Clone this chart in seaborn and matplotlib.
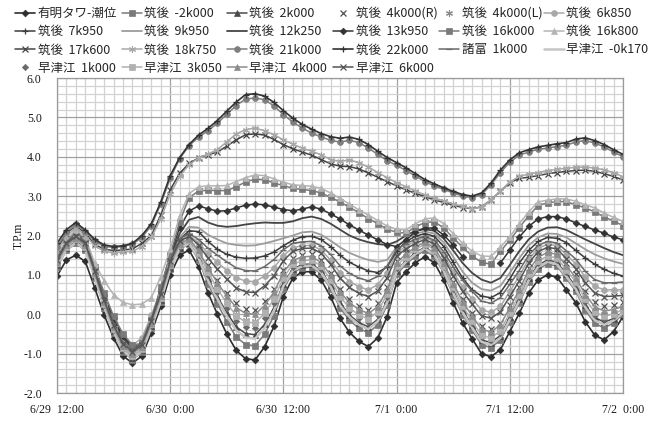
import numpy as np
import pandas as pd
import matplotlib
matplotlib.use("Agg")
import matplotlib.pyplot as plt
from matplotlib.lines import Line2D
from matplotlib.ticker import MultipleLocator, FixedLocator
import seaborn as sns

# hourly water levels (T.P. m), 6/29 12:00 .. 7/2 0:00
hours = list(range(61))
x_tick_hours = [0, 12, 24, 36, 48, 60]
x_tick_labels = ["6/29  12:00", "6/30  0:00", "6/30  12:00", "7/1  0:00", "7/1  12:00", "7/2  0:00"]
y_tick_values = [-2.0, -1.0, 0.0, 1.0, 2.0, 3.0, 4.0, 5.0, 6.0]

tide = [0.97, 1.38, 1.50, 1.34, 0.67, -0.02, -0.60, -1.06, -1.24, -1.06, -0.47, 0.20, 1.00, 1.50, 1.63, 1.20, 0.55, 0.00, -0.50, -0.92, -1.13,
        -1.16, -0.83, -0.31, 0.45, 0.92, 1.08, 1.08, 0.87, 0.45, -0.10, -0.46, -0.69, -0.82, -0.60, -0.06, 0.80, 1.08, 1.31, 1.46, 1.31,
        0.87, 0.29, -0.22, -0.62, -1.00, -1.08, -0.90, -0.44, 0.02, 0.54, 0.87, 1.00, 0.94, 0.62, 0.29, -0.19, -0.53, -0.65, -0.44, -0.06]
c_m2k000 = [1.20, 1.62, 1.80, 1.62, 0.92, 0.16, -0.47, -0.96, -1.15, -0.97, -0.36, 0.32, 1.14, 1.65, 1.78, 1.38, 0.78, 0.27, -0.19, -0.58, -0.77,
            -0.80, -0.51, -0.04, 0.64, 1.06, 1.18, 1.20, 1.02, 0.65, 0.16, -0.15, -0.36, -0.47, -0.27, 0.23, 1.01, 1.27, 1.48, 1.62, 1.47,
            1.05, 0.48, -0.01, -0.40, -0.77, -0.85, -0.66, -0.19, 0.28, 0.81, 1.15, 1.28, 1.22, 0.91, 0.58, 0.10, -0.23, -0.35, -0.22, 0.00]
c_2k000 = [1.25, 1.67, 1.85, 1.67, 0.97, 0.21, -0.42, -0.91, -1.10, -0.92, -0.31, 0.36, 1.18, 1.69, 1.82, 1.46, 0.91, 0.45, 0.04, -0.32, -0.49,
           -0.52, -0.26, 0.16, 0.78, 1.15, 1.26, 1.28, 1.10, 0.75, 0.29, -0.02, -0.21, -0.32, -0.13, 0.35, 1.11, 1.36, 1.57, 1.70, 1.55,
           1.14, 0.58, 0.10, -0.28, -0.65, -0.72, -0.54, -0.07, 0.39, 0.92, 1.25, 1.38, 1.32, 1.02, 0.70, 0.24, -0.08, -0.20, -0.11, 0.05]
c_4k000r = [1.35, 1.77, 1.95, 1.77, 1.07, 0.32, -0.31, -0.79, -0.98, -0.80, -0.19, 0.49, 1.31, 1.82, 1.95, 1.67, 1.24, 0.88, 0.55, 0.28, 0.14,
            0.12, 0.33, 0.65, 1.13, 1.42, 1.51, 1.52, 1.37, 1.06, 0.65, 0.39, 0.22, 0.12, 0.29, 0.70, 1.36, 1.57, 1.75, 1.86, 1.73,
            1.34, 0.83, 0.38, 0.03, -0.31, -0.38, -0.21, 0.24, 0.68, 1.18, 1.50, 1.62, 1.57, 1.29, 1.01, 0.60, 0.30, 0.20, 0.24, 0.30]
c_4k000l = [1.32, 1.74, 1.92, 1.74, 1.04, 0.29, -0.34, -0.83, -1.02, -0.84, -0.23, 0.44, 1.26, 1.77, 1.90, 1.58, 1.10, 0.69, 0.32, 0.01, -0.15,
            -0.17, 0.06, 0.43, 0.98, 1.31, 1.40, 1.42, 1.26, 0.93, 0.51, 0.23, 0.05, -0.05, 0.13, 0.57, 1.26, 1.49, 1.68, 1.80, 1.66,
            1.26, 0.73, 0.27, -0.10, -0.45, -0.52, -0.34, 0.11, 0.56, 1.07, 1.39, 1.52, 1.47, 1.17, 0.87, 0.42, 0.11, 0.00, 0.05, 0.15]
c_6k850 = [1.40, 1.82, 2.00, 1.83, 1.17, 0.46, -0.14, -0.60, -0.78, -0.61, -0.03, 0.61, 1.39, 1.87, 2.00, 1.82, 1.55, 1.32, 1.11, 0.93, 0.84,
           0.83, 0.97, 1.18, 1.49, 1.69, 1.74, 1.75, 1.63, 1.38, 1.05, 0.83, 0.70, 0.62, 0.75, 1.06, 1.56, 1.73, 1.86, 1.95, 1.84,
           1.51, 1.07, 0.69, 0.39, 0.11, 0.05, 0.20, 0.58, 0.97, 1.40, 1.67, 1.78, 1.74, 1.51, 1.28, 0.94, 0.71, 0.62, 0.62, 0.62]
c_7k950 = [1.35, 1.75, 1.95, 1.78, 1.00, 0.35, -0.25, -0.70, -0.90, -0.86, -0.28, 0.50, 1.35, 1.90, 2.12, 2.10, 1.85, 1.65, 1.52, 1.45, 1.42,
           1.43, 1.48, 1.58, 1.74, 1.88, 1.97, 1.98, 1.90, 1.72, 1.50, 1.32, 1.20, 1.10, 1.06, 1.20, 1.60, 1.85, 1.98, 2.05, 1.98,
           1.72, 1.32, 0.92, 0.62, 0.46, 0.42, 0.55, 0.90, 1.30, 1.62, 1.85, 1.95, 1.93, 1.82, 1.62, 1.43, 1.27, 1.14, 1.04, 0.97]
c_9k950 = [1.38, 1.78, 1.98, 1.80, 1.05, 0.40, -0.20, -0.65, -0.88, -0.84, -0.25, 0.55, 1.40, 1.95, 2.22, 2.20, 2.02, 1.90, 1.80, 1.76, 1.74,
           1.75, 1.80, 1.86, 1.93, 2.00, 2.08, 2.10, 2.02, 1.87, 1.70, 1.56, 1.46, 1.38, 1.33, 1.38, 1.70, 1.92, 2.05, 2.10, 2.05,
           1.82, 1.46, 1.08, 0.80, 0.64, 0.60, 0.72, 1.05, 1.42, 1.75, 1.95, 2.05, 2.04, 1.95, 1.80, 1.65, 1.52, 1.42, 1.34, 1.28]
c_12k250 = [1.40, 1.80, 2.00, 1.82, 1.10, 0.45, -0.15, -0.60, -0.86, -0.82, -0.22, 0.60, 1.45, 2.05, 2.40, 2.47, 2.33, 2.25, 2.22, 2.24, 2.28,
            2.31, 2.33, 2.32, 2.32, 2.36, 2.44, 2.48, 2.42, 2.30, 2.15, 2.00, 1.90, 1.83, 1.78, 1.76, 1.85, 2.00, 2.12, 2.16, 2.12,
            1.92, 1.62, 1.30, 1.05, 0.88, 0.80, 0.92, 1.25, 1.60, 1.90, 2.10, 2.20, 2.21, 2.14, 2.02, 1.90, 1.79, 1.68, 1.58, 1.50]
c_13k950 = [1.42, 1.82, 2.05, 1.86, 1.15, 0.50, -0.10, -0.55, -0.82, -0.78, -0.18, 0.65, 1.50, 2.20, 2.62, 2.75, 2.68, 2.62, 2.63, 2.70, 2.77,
            2.80, 2.78, 2.72, 2.66, 2.63, 2.67, 2.73, 2.67, 2.55, 2.42, 2.27, 2.14, 2.01, 1.89, 1.77, 1.72, 1.89, 2.10, 2.19, 2.19,
            2.01, 1.76, 1.46, np.nan, np.nan, np.nan, 1.30, 1.63, 1.96, 2.23, 2.42, 2.48, 2.48, 2.42, 2.32, 2.23, 2.14, 2.06, 1.96, 1.89]
c_16k000 = [1.45, 1.85, 2.10, 1.90, 1.20, 0.55, -0.05, -0.50, -0.78, -0.74, -0.15, 0.70, 1.50, 2.35, 2.96, 3.13, 3.15, 3.14, 3.14, 3.24, 3.36,
            3.43, 3.42, 3.33, 3.27, 3.20, 3.17, 3.14, 3.08, 2.97, 2.85, 2.72, 2.58, 2.43, 2.30, 2.16, 2.08, 2.06, 2.22, 2.33, 2.35,
            2.19, 1.94, 1.70, 1.48, 1.32, 1.27, 1.60, 1.88, 2.20, 2.50, 2.76, 2.83, 2.86, 2.86, 2.78, 2.70, 2.60, 2.47, 2.37, 2.25]
c_16k800 = [1.50, 1.90, 2.15, 1.95, 1.30, 0.85, 0.50, 0.30, 0.24, 0.26, 0.42, 0.95, 1.65, 2.50, 3.06, 3.24, 3.26, 3.26, 3.27, 3.37, 3.47,
            3.54, 3.52, 3.44, 3.35, 3.29, 3.27, 3.25, 3.20, 3.08, 2.94, 2.80, 2.65, 2.52, 2.38, 2.24, 2.16, 2.14, 2.30, 2.42, 2.45,
            2.30, 2.05, 1.80, 1.60, 1.48, 1.47, 1.70, 1.97, 2.30, 2.60, 2.85, 2.90, 2.93, 2.93, 2.87, 2.78, 2.70, 2.57, 2.46, 2.36]
c_17k600 = [1.65, 2.05, 2.25, 2.05, 1.78, 1.65, 1.62, 1.63, 1.66, 1.80, 2.00, 2.52, 3.16, 3.58, 3.83, 3.97, 4.05, 4.12, 4.27, 4.43, 4.56,
            4.58, 4.55, 4.44, 4.31, 4.20, 4.12, 4.04, 3.93, 3.82, 3.76, 3.75, 3.69, 3.59, 3.48, 3.37, 3.26, 3.16, 3.07, 2.99, 2.90,
            2.84, 2.77, 2.71, 2.68, 2.73, 2.90, 3.13, 3.34, 3.45, 3.48, 3.52, 3.57, 3.60, 3.63, 3.65, 3.66, 3.63, 3.57, 3.50, 3.41]
c_18k750 = [1.60, 1.98, 2.20, 2.00, 1.74, 1.60, 1.56, 1.58, 1.60, 1.72, 1.95, 2.42, 3.05, 3.50, 3.80, 3.97, 4.07, 4.18, 4.38, 4.58, 4.69,
            4.73, 4.66, 4.56, 4.43, 4.32, 4.22, 4.14, 4.05, 3.93, 3.88, 3.92, 3.85, 3.74, 3.60, 3.47, 3.34, 3.24, 3.13, 3.03, 2.95,
            2.88, 2.80, 2.74, 2.68, 2.72, 2.90, 3.13, 3.36, 3.50, 3.56, 3.60, 3.65, 3.68, 3.71, 3.73, 3.74, 3.71, 3.67, 3.60, 3.49]
c_21k000 = [1.72, 2.08, 2.28, 2.10, 1.86, 1.72, 1.70, 1.72, 1.78, 1.95, 2.25, 2.80, 3.45, 3.95, 4.28, 4.50, 4.66, 4.85, 5.08, 5.30, 5.47,
            5.49, 5.45, 5.29, 5.07, 4.88, 4.73, 4.60, 4.50, 4.42, 4.37, 4.42, 4.36, 4.22, 4.06, 3.90, 3.78, 3.65, 3.51, 3.37, 3.26,
            3.17, 3.08, 3.00, 2.96, 3.04, 3.28, 3.60, 3.86, 4.04, 4.12, 4.19, 4.22, 4.26, 4.29, 4.38, 4.41, 4.35, 4.25, 4.12, 4.00]
c_22k000 = [1.80, 2.15, 2.33, 2.14, 1.90, 1.76, 1.72, 1.74, 1.80, 2.00, 2.30, 2.85, 3.52, 3.98, 4.31, 4.55, 4.72, 4.92, 5.16, 5.39, 5.58,
            5.60, 5.54, 5.38, 5.17, 4.98, 4.82, 4.70, 4.59, 4.51, 4.47, 4.50, 4.44, 4.31, 4.14, 3.98, 3.85, 3.72, 3.57, 3.42, 3.31,
            3.21, 3.12, 3.04, 3.00, 3.08, 3.33, 3.66, 3.92, 4.10, 4.18, 4.25, 4.29, 4.33, 4.36, 4.45, 4.48, 4.41, 4.31, 4.18, 4.06]
morodomi_1k000 = [1.42, 1.84, 2.02, 1.85, 1.14, 0.40, -0.23, -0.71, -0.90, -0.71, -0.10, 0.58, 1.40, 1.92, 2.05, 1.90, 1.68, 1.50, 1.33, 1.18, 1.11,
                  1.10, 1.21, 1.39, 1.64, 1.80, 1.84, 1.85, 1.74, 1.52, 1.23, 1.04, 0.92, 0.85, 0.96, 1.23, 1.65, 1.79, 1.91, 1.98, 1.88,
                  1.59, 1.20, 0.86, 0.59, 0.33, 0.28, 0.42, 0.76, 1.11, 1.50, 1.75, 1.85, 1.81, 1.61, 1.40, 1.09, 0.88, 0.80, 0.80, 0.82]
h_m0k170 = [1.22, 1.64, 1.82, 1.64, 0.94, 0.19, -0.44, -0.93, -1.12, -0.94, -0.33, 0.34, 1.16, 1.67, 1.80, 1.43, 0.86, 0.39, -0.05, -0.41, -0.59,
            -0.62, -0.35, 0.09, 0.72, 1.11, 1.22, 1.24, 1.06, 0.70, 0.23, -0.07, -0.27, -0.38, -0.18, 0.30, 1.08, 1.33, 1.53, 1.67, 1.52,
            1.10, 0.54, 0.05, -0.34, -0.70, -0.78, -0.60, -0.13, 0.34, 0.86, 1.20, 1.33, 1.27, 0.96, 0.64, 0.18, -0.15, -0.27, -0.16, 0.03]
h_1k000 = [1.27, 1.69, 1.87, 1.69, 0.99, 0.23, -0.40, -0.89, -1.08, -0.90, -0.29, 0.39, 1.21, 1.72, 1.85, 1.51, 1.00, 0.57, 0.17, -0.16, -0.33,
           -0.35, -0.10, 0.29, 0.86, 1.21, 1.31, 1.33, 1.16, 0.82, 0.38, 0.09, -0.10, -0.20, -0.01, 0.45, 1.18, 1.42, 1.62, 1.75, 1.61,
           1.19, 0.64, 0.16, -0.22, -0.59, -0.66, -0.48, -0.02, 0.45, 0.97, 1.30, 1.43, 1.37, 1.07, 0.76, 0.31, -0.01, -0.12, -0.04, 0.10]
h_3k050 = [1.30, 1.72, 1.90, 1.72, 1.02, 0.26, -0.37, -0.86, -1.05, -0.87, -0.26, 0.42, 1.24, 1.75, 1.88, 1.56, 1.07, 0.65, 0.28, -0.04, -0.20,
           -0.22, 0.02, 0.39, 0.93, 1.27, 1.36, 1.38, 1.22, 0.88, 0.45, 0.16, -0.02, -0.12, 0.06, 0.51, 1.23, 1.46, 1.65, 1.78, 1.64,
           1.23, 0.68, 0.21, -0.17, -0.53, -0.60, -0.42, 0.04, 0.50, 1.02, 1.35, 1.48, 1.43, 1.13, 0.82, 0.38, 0.06, -0.05, 0.01, 0.12]
h_4k000 = [1.33, 1.75, 1.93, 1.75, 1.05, 0.30, -0.33, -0.81, -1.00, -0.82, -0.21, 0.46, 1.28, 1.79, 1.92, 1.62, 1.18, 0.80, 0.46, 0.17, 0.02,
           0.00, 0.22, 0.56, 1.06, 1.37, 1.46, 1.47, 1.31, 0.99, 0.57, 0.29, 0.12, 0.02, 0.19, 0.62, 1.31, 1.53, 1.71, 1.83, 1.69,
           1.30, 0.78, 0.32, -0.04, -0.38, -0.45, -0.27, 0.17, 0.62, 1.12, 1.45, 1.57, 1.52, 1.23, 0.93, 0.50, 0.19, 0.08, 0.12, 0.20]
h_6k000 = [1.38, 1.80, 1.98, 1.80, 1.10, 0.35, -0.28, -0.76, -0.95, -0.77, -0.16, 0.52, 1.34, 1.85, 1.98, 1.76, 1.43, 1.15, 0.89, 0.67, 0.57,
           0.55, 0.72, 0.98, 1.36, 1.60, 1.67, 1.68, 1.55, 1.27, 0.92, 0.68, 0.53, 0.45, 0.59, 0.93, 1.48, 1.66, 1.80, 1.90, 1.78,
           1.44, 0.98, 0.58, 0.26, -0.04, -0.10, 0.06, 0.45, 0.85, 1.30, 1.59, 1.70, 1.66, 1.41, 1.16, 0.80, 0.54, 0.45, 0.46, 0.48]

station_names = ["有明タワ-潮位", "筑後  -2k000", "筑後  2k000", "筑後  4k000(R)", "筑後  4k000(L)", "筑後  6k850",
                 "筑後  7k950", "筑後  9k950", "筑後  12k250", "筑後  13k950", "筑後  16k000", "筑後  16k800",
                 "筑後  17k600", "筑後  18k750", "筑後  21k000", "筑後  22k000", "諸富  1k000", "早津江  -0k170",
                 "早津江  1k000", "早津江  3k050", "早津江  4k000", "早津江  6k000"]
station_levels = [tide, c_m2k000, c_2k000, c_4k000r, c_4k000l, c_6k850, c_7k950, c_9k950, c_12k250, c_13k950,
                  c_16k000, c_16k800, c_17k600, c_18k750, c_21k000, c_22k000, morodomi_1k000, h_m0k170,
                  h_1k000, h_3k050, h_4k000, h_6k000]

STAR = (6, 2, 0)
# colour, marker, marker size, line width, marker edge width
styles = [
    ("#2e2e2e", "D", 3.4, 1.2, 0.5),
    ("#7a7a7a", "s", 4.0, 1.1, 0.5),
    ("#4a4a4a", "^", 4.3, 1.1, 0.5),
    ("#505050", "x", 4.5, 0.0, 0.9),
    ("#8a8a8a", STAR, 5.0, 0.0, 0.8),
    ("#a8a8a8", "o", 4.2, 1.1, 0.5),
    ("#3c3c3c", "+", 5.0, 1.1, 0.9),
    ("#9c9c9c", None, 0.0, 1.3, 0.5),
    ("#454545", None, 0.0, 1.3, 0.5),
    ("#333333", "D", 3.4, 1.1, 0.5),
    ("#7a7a7a", "s", 4.0, 1.1, 0.5),
    ("#b4b4b4", "^", 4.3, 1.1, 0.5),
    ("#444444", "x", 4.5, 1.1, 0.9),
    ("#a8a8a8", STAR, 5.0, 1.1, 0.8),
    ("#7e7e7e", "o", 4.2, 1.1, 0.5),
    ("#333333", "+", 5.0, 1.2, 0.9),
    ("#6a6a6a", "_", 4.0, 1.1, 0.9),
    ("#c4c4c4", None, 0.0, 1.8, 0.5),
    ("#6a6a6a", "D", 3.2, 0.0, 0.5),
    ("#b0b0b0", "s", 4.0, 1.1, 0.5),
    ("#8c8c8c", "^", 4.3, 1.1, 0.5),
    ("#555555", "x", 4.5, 1.1, 0.9),
]

sns.set_theme(style="white")
plt.rcParams["font.family"] = ["Noto Sans CJK JP", "DejaVu Sans"]

W, H = 662, 423
fig = plt.figure(figsize=(W / 100, H / 100), dpi=100)
ax = fig.add_axes([57 / W, 1 - 393 / H, (623 - 57) / W, (393 - 78) / H])

handles = []
for name, levels, (color, marker, ms, lw, mew) in zip(station_names, station_levels, styles):
    d = pd.DataFrame({"hour": hours, "level": levels})
    d["seg"] = d["level"].isna().cumsum()
    d = d.dropna()
    ls = "-" if lw > 0 else "none"
    sns.lineplot(data=d, x="hour", y="level", units="seg", estimator=None, sort=False, ax=ax,
                 color=color, linewidth=lw, linestyle=ls, marker=marker, markersize=ms,
                 markerfacecolor=color, markeredgecolor=color, markeredgewidth=mew, legend=False)
    handles.append(Line2D([0], [0], color=color, linewidth=lw, linestyle=ls, marker=marker, markersize=ms,
                          markerfacecolor=color, markeredgecolor=color, markeredgewidth=mew))

ax.xaxis.set_major_locator(FixedLocator(x_tick_hours))
ax.xaxis.set_minor_locator(MultipleLocator(1))
ax.set_xticklabels(x_tick_labels)
ax.set_yticks(y_tick_values)
ax.set_yticklabels([f"{v:.1f}" for v in y_tick_values])
ax.yaxis.set_minor_locator(MultipleLocator(0.2))
ax.set_xlim(0, 60)
ax.set_ylim(-2, 6)
ax.set_axisbelow(True)
ax.grid(which="minor", color="#d2d2d2", linewidth=0.9)
ax.grid(which="major", color="#a0a0a0", linewidth=0.9)
for s in ax.spines.values():
    s.set_color("#9a9a9a")
    s.set_linewidth(0.9)
ax.tick_params(which="major", direction="out", length=4, width=0.8, color="#8a8a8a", labelsize=8.5, labelcolor="#1a1a1a")
ax.tick_params(which="major", axis="y", pad=7)
ax.tick_params(which="major", axis="x", pad=4)
ax.tick_params(which="minor", length=0)
for lbl in ax.get_xticklabels() + ax.get_yticklabels():
    lbl.set_fontfamily("Liberation Serif")
ax.set_xlabel("")
ax.set_ylabel("T.P.m", fontfamily="Liberation Serif", fontsize=8.5, color="#1a1a1a")
ax.yaxis.set_label_coords((25 - 57) / 566, 0.5)

# legend laid out row by row in six fixed columns, like the spreadsheet
col_x = [15, 122, 227, 333, 439, 544]
for c, x0 in enumerate(col_x):
    idx = [i for i in range(len(station_names)) if i % 6 == c]
    fig.legend([handles[i] for i in idx], [station_names[i] for i in idx],
               loc="upper left", bbox_to_anchor=(x0 / W, 1 - 7 / H), bbox_transform=fig.transFigure,
               frameon=False, fontsize=9, handlelength=1.6, handletextpad=0.2,
               labelspacing=0.42, borderpad=0, borderaxespad=0)

fig.savefig("out.png", dpi=100)
